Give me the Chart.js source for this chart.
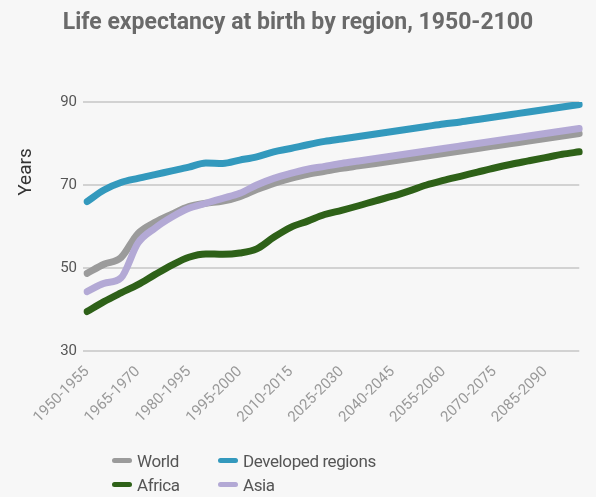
<!DOCTYPE html>
<html>
<head>
<meta charset="utf-8">
<title>Life expectancy at birth by region</title>
<script src="https://cdn.jsdelivr.net/npm/chart.js@4"></script>
<style>
  body { margin: 0; background: #f7f7f7; }
  #wrap { position: relative; width: 596px; height: 497px; }
  #legenda {
    position: absolute; left: 112px; top: 449px;
    display: grid; grid-template-columns: 106px auto; row-gap: 1px;
    font: 17px Roboto, "Liberation Sans", sans-serif;
    letter-spacing: -0.4px;
    color: #555;
  }
  .item { display: flex; align-items: center; height: 23px; }
  .swatch { width: 20px; height: 5px; border-radius: 3px; margin-right: 5px; }
</style>
</head>
<body>
<div id="wrap">
  <canvas id="grafico" width="596" height="497"></canvas>
  <div id="legenda"></div>
</div>
<script>
const FONTE = 'Roboto, "Liberation Sans", sans-serif';

// periodos de cinco anos (o rotulo "1980-1995" aparece assim no eixo)
const periodos = [
  "1950-1955", "1955-1960", "1960-1965", "1965-1970", "1970-1975", "1975-1980",
  "1980-1995", "1985-1990", "1990-1995", "1995-2000", "2000-2005", "2005-2010",
  "2010-2015", "2015-2020", "2020-2025", "2025-2030", "2030-2035", "2035-2040",
  "2040-2045", "2045-2050", "2050-2055", "2055-2060", "2060-2065", "2065-2070",
  "2070-2075", "2075-2080", "2080-2085", "2085-2090", "2090-2095", "2095-2100"
];

const mundo = [
  48.7, 50.9, 52.5, 58.3, 61.0, 63.0, 64.8, 65.6, 66.1, 67.2,
  68.9, 70.4, 71.6, 72.6, 73.3, 74.0, 74.6, 75.2, 75.8, 76.4,
  77.0, 77.6, 78.2, 78.8, 79.4, 80.0, 80.6, 81.2, 81.8, 82.4
];
const desenvolvidas = [
  66.0, 68.8, 70.6, 71.6, 72.5, 73.4, 74.3, 75.3, 75.2, 76.0,
  76.8, 78.0, 78.8, 79.7, 80.5, 81.1, 81.7, 82.3, 82.9, 83.5,
  84.1, 84.7, 85.2, 85.8, 86.4, 87.0, 87.6, 88.2, 88.8, 89.4
];
const africa = [
  39.5, 41.9, 44.0, 46.0, 48.4, 50.7, 52.6, 53.4, 53.3, 53.6,
  54.6, 57.4, 59.8, 61.3, 62.9, 63.9, 65.0, 66.2, 67.3, 68.6,
  70.0, 71.1, 72.1, 73.1, 74.1, 75.0, 75.8, 76.6, 77.4, 78.0
];
const asia = [
  44.3, 46.3, 47.6, 56.0, 59.6, 62.3, 64.4, 65.6, 66.8, 68.0,
  70.0, 71.6, 72.8, 73.8, 74.5, 75.2, 75.8, 76.4, 77.0, 77.6,
  78.2, 78.8, 79.4, 80.0, 80.6, 81.2, 81.8, 82.4, 83.0, 83.6
];

const series = [
  { label: "World", data: mundo, cor: "#9b9b9b", ordem: 2 },
  { label: "Developed regions", data: desenvolvidas, cor: "#3399bd", ordem: 1 },
  { label: "Africa", data: africa, cor: "#2e6118", ordem: 1 },
  { label: "Asia", data: asia, cor: "#b3a9d5", ordem: 0 }
];

// titulo do eixo Y desenhado na altura certa
const tituloEixo = {
  id: "tituloEixo",
  afterDraw(chart) {
    const ctx = chart.ctx;
    ctx.save();
    ctx.translate(26, 172);
    ctx.rotate(-Math.PI / 2);
    ctx.font = "19px " + FONTE;
    ctx.fillStyle = "#333";
    ctx.textAlign = "center";
    ctx.textBaseline = "middle";
    ctx.fillText("Years", 0, 0);
    ctx.restore();
  }
};

const chart = new Chart(document.getElementById("grafico"), {
  type: "line",
  data: {
    labels: periodos,
    datasets: series.map((s) => ({
      label: s.label,
      data: s.data,
      borderColor: s.cor,
      backgroundColor: s.cor,
      borderWidth: 7,
      borderCapStyle: "round",
      borderJoinStyle: "round",
      pointRadius: 0,
      cubicInterpolationMode: "monotone",
      order: s.ordem
    }))
  },
  options: {
    responsive: false,
    animation: false,
    layout: { padding: { left: 0, right: 0, bottom: 60 } },
    plugins: {
      legend: { display: false },
      tooltip: { enabled: false },
      title: {
        display: true,
        text: "Life expectancy at birth by region, 1950-2100",
        color: "#6a6a6a",
        font: { family: FONTE, size: 23, weight: "bold" },
        padding: { top: 9, bottom: 65.4 }
      }
    },
    scales: {
      x: {
        grid: { display: false },
        border: { display: false },
        ticks: {
          autoSkip: false,
          maxRotation: 45,
          minRotation: 45,
          padding: 4,
          color: "#999",
          font: { family: FONTE, size: 15 },
          callback: (v, i) => (i % 3 === 0 ? periodos[i] : "")
        },
        afterFit: (s) => { s.height = 86; }
      },
      y: {
        min: 30,
        max: 90,
        border: { display: false },
        grid: { color: "#d2d2d2", lineWidth: 2, tickLength: 4, tickColor: "#d2d2d2" },
        ticks: {
          stepSize: 20,
          padding: 6,
          color: "#555",
          font: { family: FONTE, size: 15 }
        },
        afterFit: (s) => { s.width = 87; }
      }
    }
  },
  plugins: [tituloEixo]
});

// legenda em duas colunas
const legenda = document.getElementById("legenda");
series.forEach((s) => {
  const item = document.createElement("div");
  item.className = "item";
  item.innerHTML = '<span class="swatch" style="background:' + s.cor + '"></span>' + s.label;
  legenda.appendChild(item);
});
</script>
</body>
</html>
